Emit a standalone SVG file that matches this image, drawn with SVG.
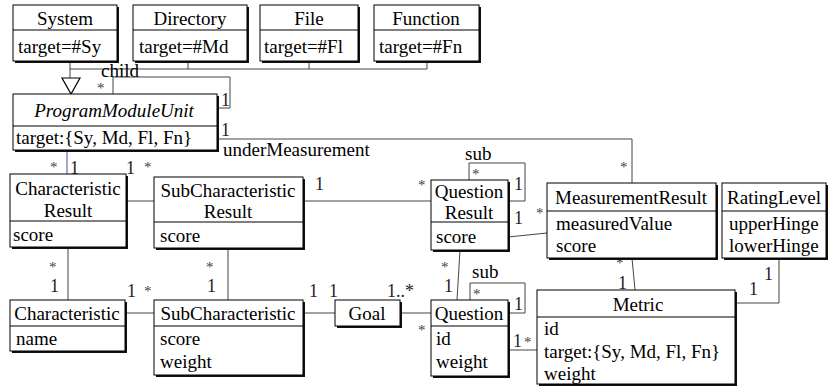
<svg xmlns="http://www.w3.org/2000/svg" width="830" height="387" viewBox="0 0 830 387">
<style>
.sh{fill:#111}
.bx{fill:#fff;stroke:#000;stroke-width:1}
.dv{stroke:#000;stroke-width:1}
text{font-family:"Liberation Serif","Times New Roman",serif;font-size:19px;fill:#000}
.c{text-anchor:middle}
.it{font-style:italic}
.m{font-size:18px;fill:#222}
.s{font-size:15px;fill:#444}
.ln{fill:none;stroke:#444;stroke-width:1}
.blue{fill:none;stroke:#8a8abb;stroke-width:1.5}
</style>
<rect width="830" height="387" fill="#fff"/>
<g id="connectors">
  <polyline class="ln" points="70,61 70,78"/>
  <polyline class="ln" points="70,69 427,69"/>
  <polyline class="ln" points="188,61 188,69"/>
  <polyline class="ln" points="309,61 309,69"/>
  <polyline class="ln" points="427,61 427,69"/>
  <polygon points="62,78 80,78 71,94" fill="#fff" stroke="#000" stroke-width="1.2"/>
  <text x="101" y="77">child</text>
  <polyline class="ln" points="113,94 113,77 230,77 230,108 217,108"/>
  <text class="s" x="97" y="93">*</text>
  <text class="m" x="221" y="106">1</text>
  <polyline class="ln" points="217,139 632,139 632,183"/>
  <text class="m" x="221" y="136">1</text>
  <text x="223" y="156">underMeasurement</text>
  <text class="s" x="620" y="172">*</text>
  <line class="blue" x1="67" y1="150" x2="67" y2="174"/>
  <text class="s" x="50" y="172">*</text>
  <text class="m" x="70" y="174">1</text>
  <text class="m" x="126" y="174">1</text>
  <text class="s" x="144" y="172">*</text>
  <line class="ln" x1="126" y1="201" x2="154" y2="201"/>
  <line class="ln" x1="68" y1="247" x2="68" y2="300"/>
  <text class="s" x="49" y="272">*</text>
  <text class="m" x="50" y="292">1</text>
  <line class="ln" x1="228" y1="248" x2="228" y2="300"/>
  <text class="s" x="206" y="272">*</text>
  <text class="m" x="207" y="292">1</text>
  <line class="ln" x1="125" y1="313" x2="154" y2="313"/>
  <text class="m" x="127" y="297">1</text>
  <text class="s" x="144" y="296">*</text>
  <line class="ln" x1="303" y1="313" x2="335" y2="313"/>
  <text class="m" x="309" y="297">1</text>
  <text class="m" x="329" y="297">1</text>
  <line class="ln" x1="400" y1="313" x2="431" y2="313"/>
  <text class="m" x="387" y="297">1..*</text>
  <text class="s" x="418" y="335">*</text>
  <line class="ln" x1="303" y1="201" x2="431" y2="201"/>
  <text class="m" x="315" y="190">1</text>
  <text class="s" x="418" y="190">*</text>
  <polyline class="ln" points="469,180 469,163 525,163 525,201 508,201"/>
  <text x="465" y="160">sub</text>
  <text class="s" x="472" y="179">*</text>
  <text class="m" x="514" y="190">1</text>
  <line class="ln" x1="508" y1="237" x2="547" y2="233"/>
  <text class="m" x="514" y="224">1</text>
  <text class="s" x="536" y="218">*</text>
  <line class="ln" x1="460" y1="250" x2="457" y2="300"/>
  <text class="s" x="441" y="272">*</text>
  <text class="m" x="444" y="292">1</text>
  <polyline class="ln" points="470,300 470,283 525,283 525,313 508,313"/>
  <text x="472" y="278">sub</text>
  <text class="s" x="473" y="299">*</text>
  <text class="m" x="514" y="310">1</text>
  <line class="ln" x1="508" y1="350" x2="537" y2="350"/>
  <text class="m" x="513" y="347">1</text>
  <text class="s" x="524" y="347">*</text>
  <line class="ln" x1="632" y1="258" x2="635" y2="290"/>
  <text class="s" x="616" y="268">*</text>
  <text class="m" x="618" y="289">1</text>
  <polyline class="ln" points="735,303 779,303 779,258"/>
  <text class="m" x="749" y="295">1</text>
  <text class="m" x="764" y="280">1</text>
</g>
<g id="System">
  <rect class="sh" x="15" y="7" width="104" height="56"/>
  <rect class="bx" x="13" y="5" width="104" height="56"/>
  <line class="dv" x1="13" y1="30" x2="117" y2="30"/>
  <text class="c" x="65" y="25">System</text>
  <text x="18" y="53">target=#Sy</text>
</g>
<g id="Directory">
  <rect class="sh" x="135" y="7" width="114" height="56"/>
  <rect class="bx" x="133" y="5" width="114" height="56"/>
  <line class="dv" x1="133" y1="30" x2="247" y2="30"/>
  <text class="c" x="190" y="25">Directory</text>
  <text x="139" y="53">target=#Md</text>
</g>
<g id="File">
  <rect class="sh" x="262" y="7" width="98" height="56"/>
  <rect class="bx" x="260" y="5" width="98" height="56"/>
  <line class="dv" x1="260" y1="30" x2="358" y2="30"/>
  <text class="c" x="309" y="25">File</text>
  <text x="264" y="53">target=#Fl</text>
</g>
<g id="Function">
  <rect class="sh" x="376" y="7" width="105" height="56"/>
  <rect class="bx" x="374" y="5" width="105" height="56"/>
  <line class="dv" x1="374" y1="30" x2="479" y2="30"/>
  <text class="c" x="426" y="25">Function</text>
  <text x="379" y="53">target=#Fn</text>
</g>
<g id="ProgramModuleUnit">
  <rect class="sh" x="15" y="96" width="204" height="56"/>
  <rect class="bx" x="13" y="94" width="204" height="56"/>
  <line class="dv" x1="13" y1="126" x2="217" y2="126"/>
  <text class="c it" x="114" y="117">ProgramModuleUnit</text>
  <text x="16" y="144">target:{Sy, Md, Fl, Fn}</text>
</g>
<g id="CharacteristicResult">
  <rect class="sh" x="12" y="176" width="116" height="73"/>
  <rect class="bx" x="10" y="174" width="116" height="73"/>
  <line class="dv" x1="10" y1="221" x2="126" y2="221"/>
  <text class="c" x="68" y="195">Characteristic</text>
  <text class="c" x="68" y="217">Result</text>
  <text x="13" y="241">score</text>
</g>
<g id="SubCharacteristicResult">
  <rect class="sh" x="156" y="179" width="149" height="71"/>
  <rect class="bx" x="154" y="177" width="149" height="71"/>
  <line class="dv" x1="154" y1="222" x2="303" y2="222"/>
  <text class="c" x="228" y="197">SubCharacteristic</text>
  <text class="c" x="228" y="218">Result</text>
  <text x="160" y="242">score</text>
</g>
<g id="QuestionResult">
  <rect class="sh" x="433" y="182" width="77" height="70"/>
  <rect class="bx" x="431" y="180" width="77" height="70"/>
  <line class="dv" x1="431" y1="222" x2="508" y2="222"/>
  <text class="c" x="469" y="198">Question</text>
  <text class="c" x="469" y="219">Result</text>
  <text x="436" y="243">score</text>
</g>
<g id="MeasurementResult">
  <rect class="sh" x="549" y="185" width="169" height="75"/>
  <rect class="bx" x="547" y="183" width="169" height="75"/>
  <line class="dv" x1="547" y1="211" x2="716" y2="211"/>
  <text class="c" x="631" y="204">MeasurementResult</text>
  <text x="556" y="230">measuredValue</text>
  <text x="556" y="252">score</text>
</g>
<g id="RatingLevel">
  <rect class="sh" x="724" y="185" width="104" height="75"/>
  <rect class="bx" x="722" y="183" width="104" height="75"/>
  <line class="dv" x1="722" y1="211" x2="826" y2="211"/>
  <text class="c" x="774" y="204">RatingLevel</text>
  <text x="729" y="230">upperHinge</text>
  <text x="729" y="252">lowerHinge</text>
</g>
<g id="Characteristic">
  <rect class="sh" x="12" y="302" width="115" height="51"/>
  <rect class="bx" x="10" y="300" width="115" height="51"/>
  <line class="dv" x1="10" y1="326" x2="125" y2="326"/>
  <text class="c" x="67" y="320">Characteristic</text>
  <text x="16" y="345">name</text>
</g>
<g id="SubCharacteristic">
  <rect class="sh" x="156" y="302" width="149" height="75"/>
  <rect class="bx" x="154" y="300" width="149" height="75"/>
  <line class="dv" x1="154" y1="326" x2="303" y2="326"/>
  <text class="c" x="228" y="320">SubCharacteristic</text>
  <text x="160" y="345">score</text>
  <text x="160" y="368">weight</text>
</g>
<g id="Goal">
  <rect class="sh" x="337" y="302" width="65" height="26"/>
  <rect class="bx" x="335" y="300" width="65" height="26"/>
  <text class="c" x="367" y="320">Goal</text>
</g>
<g id="Question">
  <rect class="sh" x="433" y="302" width="77" height="76"/>
  <rect class="bx" x="431" y="300" width="77" height="76"/>
  <line class="dv" x1="431" y1="326" x2="508" y2="326"/>
  <text class="c" x="469" y="320">Question</text>
  <text x="436" y="345">id</text>
  <text x="436" y="368">weight</text>
</g>
<g id="Metric">
  <rect class="sh" x="539" y="292" width="198" height="94"/>
  <rect class="bx" x="537" y="290" width="198" height="94"/>
  <line class="dv" x1="537" y1="317" x2="735" y2="317"/>
  <text class="c" x="638" y="311">Metric</text>
  <text x="544" y="335">id</text>
  <text x="544" y="358">target:{Sy, Md, Fl, Fn}</text>
  <text x="544" y="380">weight</text>
</g>
</svg>
